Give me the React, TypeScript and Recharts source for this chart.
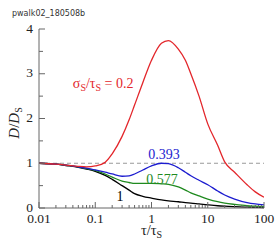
import React from "react";
import { LineChart, Line, XAxis, YAxis, ReferenceLine, ReferenceDot } from "recharts";

const tau = [0.01, 0.02, 0.03, 0.05, 0.07, 0.1, 0.15, 0.2, 0.3, 0.4, 0.5, 0.7, 1, 1.5, 2, 3, 4, 5, 7, 10, 15, 20, 30, 50, 70, 100];
const red = [1.0, 0.98, 0.96, 0.93, 0.92, 0.94, 1.02, 1.21, 1.6, 1.97, 2.3, 2.8, 3.3, 3.68, 3.74, 3.55, 3.3, 3.0, 2.5, 1.88, 1.4, 1.03, 0.8, 0.52, 0.36, 0.24];
const blue = [1.0, 0.98, 0.96, 0.92, 0.89, 0.85, 0.8, 0.76, 0.71, 0.72, 0.76, 0.85, 0.94, 1.0, 0.99, 0.9, 0.8, 0.72, 0.62, 0.52, 0.38, 0.29, 0.2, 0.12, 0.09, 0.07];
const green = [1.0, 0.98, 0.96, 0.92, 0.88, 0.84, 0.76, 0.69, 0.6, 0.57, 0.55, 0.55, 0.55, 0.54, 0.53, 0.47, 0.4, 0.34, 0.27, 0.2, 0.14, 0.11, 0.08, 0.05, 0.04, 0.03];
const black = [1.0, 0.98, 0.95, 0.91, 0.87, 0.82, 0.73, 0.64, 0.5, 0.4, 0.32, 0.26, 0.22, 0.18, 0.16, 0.14, 0.12, 0.11, 0.09, 0.07, 0.05, 0.04, 0.03, 0.02, 0.015, 0.01];

const xMajor = [0.01, 0.1, 1, 10, 100];
const xMajorLabels = ["0.01", "0.1", "1", "10", "100"];
const xMinor = [0.02, 0.03, 0.04, 0.05, 0.06, 0.07, 0.08, 0.09, 0.2, 0.3, 0.4, 0.5, 0.6, 0.7, 0.8, 0.9, 2, 3, 4, 5, 6, 7, 8, 9, 20, 30, 40, 50, 60, 70, 80, 90];
const yMajor = [0, 1, 2, 3, 4];
const yMinor = [0.5, 1.5, 2.5, 3.5];

const data = tau.map((t, i) => ({ t, red: red[i], blue: blue[i], green: green[i], black: black[i] }));

const FONT = "Liberation Serif, Times New Roman, Times, serif";
const AX = "#666";

const isMajorX = (v: number) => xMajor.some((m) => Math.abs(m - v) < 1e-9);
const isMajorY = (v: number) => yMajor.some((m) => Math.abs(m - v) < 1e-9);

const BottomTick = (p: any) => {
  const v = p.payload.value;
  const major = isMajorX(v);
  const idx = xMajor.findIndex((m) => Math.abs(m - v) < 1e-9);
  return (
    <g>
      <line x1={p.x} x2={p.x} y1={p.y} y2={p.y - (major ? 6 : 3)} stroke={AX} strokeWidth={1} />
      {major && (
        <text x={p.x} y={p.y + 15} textAnchor="middle" fontSize={13.5} fontFamily={FONT} fill="#222">
          {xMajorLabels[idx]}
        </text>
      )}
    </g>
  );
};

const TopTick = (p: any) => {
  const v = p.payload.value;
  const major = isMajorX(v);
  return <line x1={p.x} x2={p.x} y1={p.y} y2={p.y + (major ? 6 : 3)} stroke={AX} strokeWidth={1} />;
};

const LeftTick = (p: any) => {
  const v = p.payload.value;
  const major = isMajorY(v);
  return (
    <g>
      <line x1={p.x} x2={p.x + (major ? 6 : 4)} y1={p.y} y2={p.y} stroke={AX} strokeWidth={1} />
      {major && (
        <text x={p.x - 6} y={p.y + 3.5} textAnchor="end" fontSize={13.5} fontFamily={FONT} fill="#222">
          {String(v)}
        </text>
      )}
    </g>
  );
};

const RightTick = (p: any) => {
  const v = p.payload.value;
  const major = isMajorY(v);
  return <line x1={p.x} x2={p.x - (major ? 6 : 4)} y1={p.y} y2={p.y} stroke={AX} strokeWidth={1} />;
};

const makeLabel = (content: React.ReactNode, color: string, anchor: "start" | "middle") => (props: any) => {
  const vb = props.viewBox || {};
  const cx = vb.x + (vb.width || 0) / 2;
  const cy = vb.y + (vb.height || 0) / 2;
  return (
    <text x={cx} y={cy + 5} textAnchor={anchor} fontSize={14} fontFamily={FONT} fill={color}>
      {content}
    </text>
  );
};

const redLabel = (
  <>
    <tspan>σ</tspan>
    <tspan fontSize={10} dy={3}>S</tspan>
    <tspan dy={-3}>/τ</tspan>
    <tspan fontSize={10} dy={3}>S</tspan>
    <tspan dy={-3}> = 0.2</tspan>
  </>
);

const YLabel = () => {
  return (
    <text transform="translate(19,123) rotate(-90)" textAnchor="middle" fontSize={15} fontFamily={FONT} fill="#222">
      <tspan fontStyle="italic">D</tspan>
      <tspan>/</tspan>
      <tspan fontStyle="italic">D</tspan>
      <tspan fontSize={10} dy={3}>S</tspan>
    </text>
  );
};

const XLabel = (props: any) => {
  const vb = props.viewBox || {};
  const cx = vb.x + vb.width / 2;
  return (
    <text x={cx} y={235} textAnchor="middle" fontSize={14.5} fontFamily={FONT} fill="#222">
      <tspan>τ/τ</tspan>
      <tspan fontSize={10} dy={3}>S</tspan>
    </text>
  );
};

export default function App() {
  return (
    <div style={{ position: "absolute", left: 0, top: 0, width: 278, height: 246, background: "#fff" }}>
      <div style={{ position: "absolute", left: 12, top: 9, fontFamily: "DejaVu Sans, sans-serif", fontSize: 8, color: "#333" }}>
        pwalk02_180508b
      </div>
      <LineChart width={278} height={246} data={data} margin={{ top: 29, right: 14, bottom: 0, left: 0 }}>
        <XAxis
          xAxisId="b"
          dataKey="t"
          type="number"
          scale="log"
          domain={[0.01, 100]}
          allowDataOverflow
          ticks={[...xMajor, ...xMinor]}
          interval={0}
          tickSize={0}
          tickMargin={0}
          tick={<BottomTick />}
          height={38}
          stroke={AX}
          label={<XLabel />}
        />
        <XAxis
          xAxisId="t"
          orientation="top"
          dataKey="t"
          type="number"
          scale="log"
          domain={[0.01, 100]}
          allowDataOverflow
          ticks={[...xMajor, ...xMinor]}
          interval={0}
          tickSize={0}
          tickMargin={0}
          tick={<TopTick />}
          height={0}
          stroke={AX}
        />
        <YAxis
          yAxisId="l"
          type="number"
          domain={[0, 4]}
          ticks={[...yMajor, ...yMinor]}
          interval={0}
          tickSize={0}
          tickMargin={0}
          tick={<LeftTick />}
          width={39}
          stroke={AX}
          label={<YLabel />}
        />
        <YAxis
          yAxisId="r"
          orientation="right"
          type="number"
          domain={[0, 4]}
          ticks={[...yMajor, ...yMinor]}
          interval={0}
          tickSize={0}
          tickMargin={0}
          tick={<RightTick />}
          width={0}
          stroke={AX}
        />
        <ReferenceLine xAxisId="b" yAxisId="l" y={1} stroke="#999" strokeDasharray="4 3" strokeWidth={1} />
        <Line xAxisId="b" yAxisId="l" dataKey="black" stroke="#000" strokeWidth={1.3} dot={false} type="monotone" isAnimationActive={false} />
        <Line xAxisId="b" yAxisId="l" dataKey="green" stroke="#1f8a1f" strokeWidth={1.3} dot={false} type="monotone" isAnimationActive={false} />
        <Line xAxisId="b" yAxisId="l" dataKey="blue" stroke="#1c1ccf" strokeWidth={1.3} dot={false} type="monotone" isAnimationActive={false} />
        <Line xAxisId="b" yAxisId="l" dataKey="red" stroke="#e3262b" strokeWidth={1.3} dot={false} type="monotone" isAnimationActive={false} />
        <ReferenceDot xAxisId="b" yAxisId="l" x={0.04} y={2.8} r={1} fill="none" stroke="none" label={makeLabel(redLabel, "#e3262b", "start")} />
        <ReferenceDot xAxisId="b" yAxisId="l" x={1.66} y={1.21} r={1} fill="none" stroke="none" label={makeLabel("0.393", "#1c1ccf", "middle")} />
        <ReferenceDot xAxisId="b" yAxisId="l" x={1.54} y={0.65} r={1} fill="none" stroke="none" label={makeLabel("0.577", "#1f8a1f", "middle")} />
        <ReferenceDot xAxisId="b" yAxisId="l" x={0.275} y={0.27} r={1} fill="none" stroke="none" label={makeLabel("1", "#000", "middle")} />
      </LineChart>
    </div>
  );
}
